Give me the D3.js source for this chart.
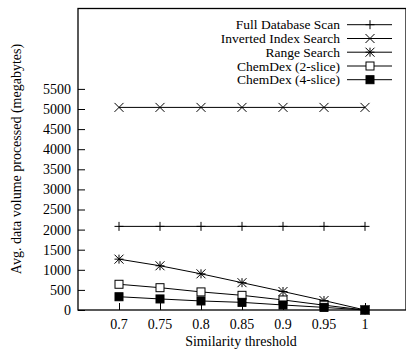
<!DOCTYPE html>
<html><head><meta charset="utf-8">
<script src="https://cdn.jsdelivr.net/npm/d3@7"></script>
<style>body{margin:0;background:#fff}svg{display:block}</style>
</head><body>
<script>
const thresholds = [0.7, 0.75, 0.8, 0.85, 0.9, 0.95, 1];
const seriesNames = ["Full Database Scan","Inverted Index Search","Range Search","ChemDex (2-slice)","ChemDex (4-slice)"];
const fullScan = [2080, 2080, 2080, 2080, 2080, 2080, 2080];
const invertedIndex = [5040, 5040, 5040, 5040, 5040, 5040, 5040];
const rangeSearch = [1265, 1100, 900, 680, 460, 235, 0];
const chemdex2 = [640, 555, 450, 365, 250, 120, 0];
const chemdex4 = [330, 275, 225, 190, 125, 65, 0];
const yTicks = [0,500,1000,1500,2000,2500,3000,3500,4000,4500,5000,5500];
const xTicks = [0.7,0.75,0.8,0.85,0.9,0.95,1];
const markers = ["plus","cross","star","square","filled"];

const W=406,H=349;
const FONT="'Liberation Serif', 'DejaVu Serif', 'Times New Roman', serif";
const svg=d3.select("body").append("svg").attr("width",W).attr("height",H)
  .attr("font-family",FONT).attr("font-size",14);
const x=d3.scaleLinear().domain([0.65,1.05]).range([78,406]);
const y=d3.scaleLinear().domain([0,7500]).range([310,8.5]);

function txt(sel,fs){return sel.attr("font-family",FONT).attr("font-size",fs||14).attr("fill","#000");}

// frame
svg.append("rect").attr("x",78).attr("y",y(7500)).attr("width",406-78).attr("height",310-y(7500))
  .attr("fill","none").attr("stroke","#000").attr("stroke-width",1.3);

// y axis
const ya=svg.append("g").attr("transform","translate(78,0)")
  .call(d3.axisRight(y).tickValues(yTicks).tickSize(7).tickFormat(""));
ya.select(".domain").remove();
ya.selectAll("line").attr("stroke","#000");
txt(svg.append("g").selectAll("text").data(yTicks).join("text"))
  .attr("x",71).attr("y",d=>y(d)).attr("dy","0.35em").attr("text-anchor","end").text(d=>d);

// x axis
const xa=svg.append("g").attr("transform","translate(0,310)")
  .call(d3.axisTop(x).tickValues(xTicks).tickSize(7).tickFormat(""));
xa.select(".domain").remove();
xa.selectAll("line").attr("stroke","#000");
txt(svg.append("g").selectAll("text").data(xTicks).join("text"))
  .attr("x",d=>x(d)).attr("y",324).attr("dy","0.35em").attr("text-anchor","middle").text(d=>d);

// labels
txt(svg.append("text")).attr("x",241).attr("y",341).attr("dy","0.35em").attr("text-anchor","middle").text("Similarity threshold");
txt(svg.append("text"),14).attr("transform","translate(16,159) rotate(-90)").attr("dy","0.35em").attr("text-anchor","middle")
  .text("Avg. data volume processed (megabytes)");

function drawMarker(g,type,cx,cy){
  const s=4.5;
  if(type==="plus"||type==="star"){
    g.append("line").attr("x1",cx-s).attr("x2",cx+s).attr("y1",cy).attr("y2",cy).attr("stroke","#000");
    g.append("line").attr("x1",cx).attr("x2",cx).attr("y1",cy-s).attr("y2",cy+s).attr("stroke","#000");
  }
  if(type==="cross"||type==="star"){
    g.append("line").attr("x1",cx-s).attr("x2",cx+s).attr("y1",cy-s).attr("y2",cy+s).attr("stroke","#000");
    g.append("line").attr("x1",cx-s).attr("x2",cx+s).attr("y1",cy+s).attr("y2",cy-s).attr("stroke","#000");
  }
  if(type==="square"){
    g.append("rect").attr("x",cx-4).attr("y",cy-4).attr("width",8).attr("height",8).attr("fill","#fff").attr("stroke","#000");
  }
  if(type==="filled"){
    g.append("rect").attr("x",cx-4).attr("y",cy-4).attr("width",8).attr("height",8).attr("fill","#000").attr("stroke","#000");
  }
}

const allSeries=[fullScan,invertedIndex,rangeSearch,chemdex2,chemdex4];
const line=d3.line().x((d,i)=>x(thresholds[i])).y(d=>y(d));
allSeries.forEach((vals,k)=>{
  const g=svg.append("g");
  g.append("path").attr("d",line(vals)).attr("fill","none").attr("stroke","#000").attr("stroke-width",1);
  vals.forEach((v,i)=>drawMarker(g,markers[k],x(thresholds[i]),y(v)));
});

// legend
const legY=[24.7,38.5,52.2,66,79.7];
seriesNames.forEach((n,k)=>{
  const g=svg.append("g");
  txt(g.append("text"),13.5).attr("x",340).attr("y",legY[k]).attr("dy","0.35em").attr("text-anchor","end").text(n);
  g.append("line").attr("x1",347).attr("x2",392).attr("y1",legY[k]).attr("y2",legY[k]).attr("stroke","#000");
  drawMarker(g,markers[k],370,legY[k]);
});
</script>
</body></html>
